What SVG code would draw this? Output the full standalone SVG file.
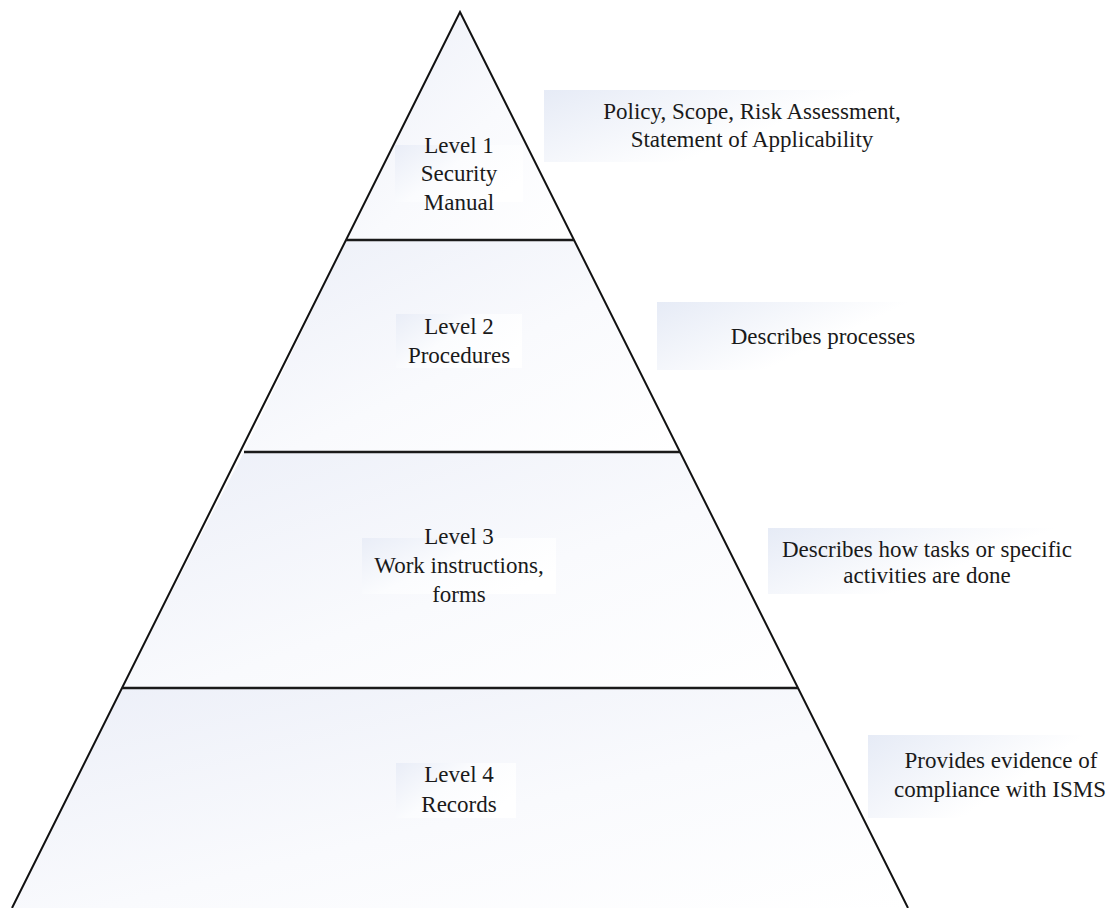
<svg xmlns="http://www.w3.org/2000/svg" width="1118" height="908" viewBox="0 0 1118 908">
  <defs>
    <linearGradient id="bandFill" x1="0" y1="0" x2="1" y2="1">
      <stop offset="0" stop-color="#eceff8"/>
      <stop offset="0.55" stop-color="#f9fafd"/>
      <stop offset="1" stop-color="#ffffff"/>
    </linearGradient>
    <linearGradient id="labelFill" x1="0" y1="0" x2="1" y2="0.5">
      <stop offset="0" stop-color="#e6ebf6"/>
      <stop offset="0.7" stop-color="#ffffff"/>
      <stop offset="1" stop-color="#ffffff"/>
    </linearGradient>
    <linearGradient id="tagFill" x1="0" y1="0" x2="1" y2="0.6">
      <stop offset="0" stop-color="#e9edf7"/>
      <stop offset="0.5" stop-color="#fbfcfe"/>
      <stop offset="1" stop-color="#ffffff"/>
    </linearGradient>
  </defs>
  <style>
    .band { fill: url(#bandFill); stroke: none; }
    .edge { fill: none; stroke: #111; stroke-width: 2; stroke-linejoin: miter; }
    .tier { fill: none; stroke: #1a1a1a; stroke-width: 2.4; }
    .tag { fill: url(#tagFill); }
    .note { fill: url(#labelFill); }
    text { font-family: "Liberation Serif", "Times New Roman", serif; font-size: 23px; fill: #1a1a1a; text-anchor: middle; }
  </style>

  <rect width="1118" height="908" fill="#ffffff"/>

  <!-- pyramid tiers -->
  <g id="tier1">
    <polygon class="band" points="460,12 574,240 346,240"/>
    <rect class="tag" x="395" y="145" width="128" height="57"/>
    <text x="459" y="153">Level 1</text>
    <text x="459" y="181">Security</text>
    <text x="459" y="210">Manual</text>
  </g>
  <g id="tier2">
    <polygon class="band" points="346,240 574,240 680,452 244,452"/>
    <rect class="tag" x="396" y="314" width="126" height="54"/>
    <text x="459" y="334">Level 2</text>
    <text x="459" y="363">Procedures</text>
  </g>
  <g id="tier3">
    <polygon class="band" points="244,452 680,452 798,688 122,688"/>
    <rect class="tag" x="362" y="538" width="194" height="56"/>
    <text x="459" y="544">Level 3</text>
    <text x="459" y="573">Work instructions,</text>
    <text x="459" y="602">forms</text>
  </g>
  <g id="tier4">
    <polygon class="band" points="122,688 798,688 908,908 12,908"/>
    <rect class="tag" x="396" y="763" width="120" height="55"/>
    <text x="459" y="782">Level 4</text>
    <text x="459" y="812">Records</text>
  </g>

  <!-- side descriptions -->
  <g id="note1">
    <rect class="note" x="544" y="90" width="370" height="72"/>
    <text x="752" y="119">Policy, Scope, Risk Assessment,</text>
    <text x="752" y="147">Statement of Applicability</text>
  </g>
  <g id="note2">
    <rect class="note" x="657" y="302" width="290" height="68"/>
    <text x="823" y="344">Describes processes</text>
  </g>
  <g id="note3">
    <rect class="note" x="768" y="528" width="330" height="66"/>
    <text x="927" y="557">Describes how tasks or specific</text>
    <text x="927" y="583">activities are done</text>
  </g>
  <g id="note4">
    <rect class="note" x="868" y="735" width="250" height="83"/>
    <text x="1001" y="768">Provides evidence of</text>
    <text x="1000" y="797">compliance with ISMS</text>
  </g>

  <!-- outline and tier dividers -->
  <g id="connectors">
    <polyline class="edge" points="12,908 460,12 908,908"/>
    <line class="tier" x1="346" y1="240" x2="574" y2="240"/>
    <line class="tier" x1="244" y1="452" x2="680" y2="452"/>
    <line class="tier" x1="122" y1="688" x2="798" y2="688"/>
  </g>
</svg>
